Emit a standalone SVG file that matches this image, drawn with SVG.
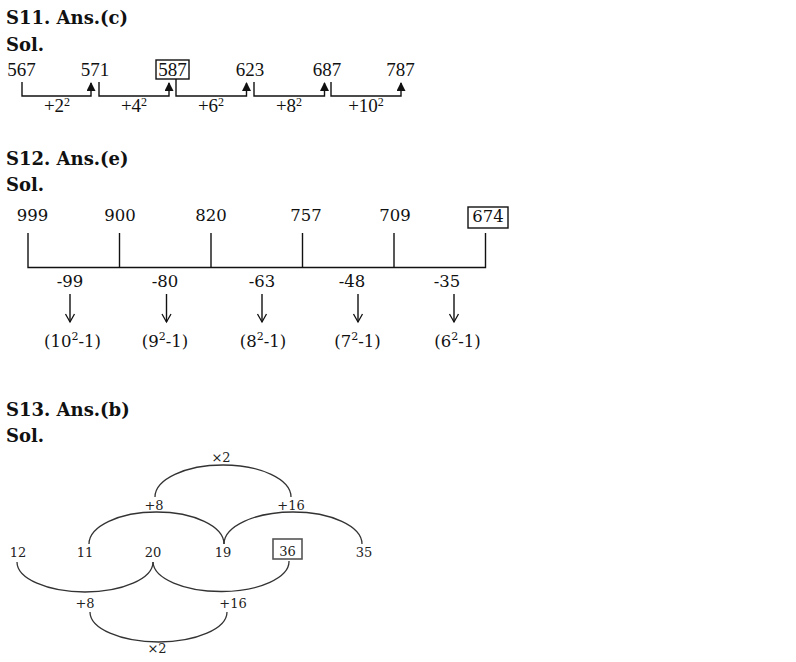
<svg xmlns="http://www.w3.org/2000/svg" width="796" height="662" viewBox="0 0 796 662">
<style>
.title{font-family:"DejaVu Serif","Liberation Serif",serif;font-weight:bold;font-size:18px;fill:#111}
.n1{font-family:"Liberation Serif",serif;font-size:19px;fill:#111;text-anchor:middle}
.n2{font-family:"DejaVu Serif","Liberation Serif",serif;font-size:16.5px;fill:#111;text-anchor:middle}
.n3{font-family:"DejaVu Serif","Liberation Serif",serif;font-size:13px;fill:#222;text-anchor:middle}
.sup1{font-size:12px}
.sup2{font-size:11px}
.ln{fill:none;stroke:#111;stroke-width:1.4}
.arc{fill:none;stroke:#333;stroke-width:1.3}
.box{fill:none;stroke:#111;stroke-width:1.4}
.box3{fill:none;stroke:#555;stroke-width:1.6}
</style>
<defs>
<marker id="tri" markerWidth="9" markerHeight="10" refX="4.5" refY="1" orient="0" markerUnits="userSpaceOnUse" viewBox="0 0 9 10">
<path d="M0,9 L4.5,0 L9,9 Z" fill="#111"/>
</marker>
<marker id="chev" markerWidth="12" markerHeight="12" refX="6" refY="10" orient="0" markerUnits="userSpaceOnUse" viewBox="0 0 12 12">
<path d="M1.5,2 L6,10 L10.5,2" fill="none" stroke="#111" stroke-width="1.3"/>
</marker>
</defs>
<rect width="796" height="662" fill="#fff"/>

<text class="title" x="6" y="24">S11. Ans.(c)</text>
<text class="title" x="6" y="51">Sol.</text>
<text class="title" x="6" y="165">S12. Ans.(e)</text>
<text class="title" x="6" y="191">Sol.</text>
<text class="title" x="6" y="416">S13. Ans.(b)</text>
<text class="title" x="6" y="442">Sol.</text>

<!-- S11 -->
<g id="s11-567"><text class="n1" x="21.5" y="76">567</text></g>
<g id="s11-571"><text class="n1" x="95" y="76">571</text></g>
<g id="s11-587"><rect class="box" x="156" y="60" width="33" height="19"/><text class="n1" x="172.5" y="76">587</text></g>
<g id="s11-623"><text class="n1" x="250" y="76">623</text></g>
<g id="s11-687"><text class="n1" x="327" y="76">687</text></g>
<g id="s11-787"><text class="n1" x="400.5" y="76">787</text></g>
<g id="s11-connectors">
<path class="ln" d="M22,82 V96 H91 V83" marker-end="url(#tri)"/>
<path class="ln" d="M99,82 V96 H169 V83" marker-end="url(#tri)"/>
<path class="ln" d="M176,79 V96 H246.5 V83" marker-end="url(#tri)"/>
<path class="ln" d="M254,82 V96 H324.5 V83" marker-end="url(#tri)"/>
<path class="ln" d="M331,82 V96 H401 V83" marker-end="url(#tri)"/>
</g>
<g id="s11-labels">
<text class="n1" x="57" y="112">+2<tspan class="sup1" dy="-6">2</tspan></text>
<text class="n1" x="134" y="112">+4<tspan class="sup1" dy="-6">2</tspan></text>
<text class="n1" x="211" y="112">+6<tspan class="sup1" dy="-6">2</tspan></text>
<text class="n1" x="289" y="112">+8<tspan class="sup1" dy="-6">2</tspan></text>
<text class="n1" x="366" y="112">+10<tspan class="sup1" dy="-6">2</tspan></text>
</g>

<!-- S12 -->
<g id="s12-999"><text class="n2" x="32.5" y="221">999</text></g>
<g id="s12-900"><text class="n2" x="120" y="221">900</text></g>
<g id="s12-820"><text class="n2" x="211" y="221">820</text></g>
<g id="s12-757"><text class="n2" x="306" y="221">757</text></g>
<g id="s12-709"><text class="n2" x="395" y="221">709</text></g>
<g id="s12-674"><rect class="box" x="468" y="207" width="40" height="21"/><text class="n2" x="488" y="222">674</text></g>
<g id="s12-connectors">
<path class="ln" d="M28,233 V267.5 H485.5 V233"/>
<path class="ln" d="M119.5,233 V267.5"/>
<path class="ln" d="M211,233 V267.5"/>
<path class="ln" d="M302.5,233 V267.5"/>
<path class="ln" d="M394,233 V267.5"/>
<path class="ln" d="M70,294 V322" marker-end="url(#chev)"/>
<path class="ln" d="M166.5,294 V322" marker-end="url(#chev)"/>
<path class="ln" d="M262,294 V322" marker-end="url(#chev)"/>
<path class="ln" d="M358,294 V322" marker-end="url(#chev)"/>
<path class="ln" d="M454,294 V322" marker-end="url(#chev)"/>
</g>
<g id="s12-labels">
<text class="n2" x="70" y="287">-99</text>
<text class="n2" x="165" y="287">-80</text>
<text class="n2" x="262" y="287">-63</text>
<text class="n2" x="352" y="287">-48</text>
<text class="n2" x="447" y="287">-35</text>
<text class="n2" x="72.5" y="346.5">(10<tspan class="sup2" dy="-6.5">2</tspan><tspan dy="6.5">-1)</tspan></text>
<text class="n2" x="165" y="346.5">(9<tspan class="sup2" dy="-6.5">2</tspan><tspan dy="6.5">-1)</tspan></text>
<text class="n2" x="263" y="346.5">(8<tspan class="sup2" dy="-6.5">2</tspan><tspan dy="6.5">-1)</tspan></text>
<text class="n2" x="357.5" y="346.5">(7<tspan class="sup2" dy="-6.5">2</tspan><tspan dy="6.5">-1)</tspan></text>
<text class="n2" x="457.5" y="346.5">(6<tspan class="sup2" dy="-6.5">2</tspan><tspan dy="6.5">-1)</tspan></text>
</g>

<!-- S13 -->
<g id="s13-12"><text class="n3" x="18" y="557">12</text></g>
<g id="s13-11"><text class="n3" x="85" y="557">11</text></g>
<g id="s13-20"><text class="n3" x="153" y="557">20</text></g>
<g id="s13-19"><text class="n3" x="223" y="557">19</text></g>
<g id="s13-36"><rect class="box3" x="273" y="539" width="29" height="20"/><text class="n3" x="287.5" y="556">36</text></g>
<g id="s13-35"><text class="n3" x="364" y="557">35</text></g>
<g id="s13-connectors">
<path class="arc" d="M89,544 A67.5 32 0 0 1 224,544"/>
<path class="arc" d="M224,544 A69 32 0 0 1 362,544"/>
<path class="arc" d="M155,497 A68 32 0 0 1 291,497"/>
<path class="arc" d="M17,562 A68 30 0 0 0 153,562"/>
<path class="arc" d="M153,562 A68 30 0 0 0 289,561"/>
<path class="arc" d="M90,612 A68.5 30 0 0 0 227,612"/>
</g>
<g id="s13-labels">
<text class="n3" x="221" y="462">×2</text>
<text class="n3" x="154" y="510">+8</text>
<text class="n3" x="291" y="510">+16</text>
<text class="n3" x="85" y="608">+8</text>
<text class="n3" x="233" y="608">+16</text>
<text class="n3" x="157" y="653">×2</text>
</g>
</svg>
